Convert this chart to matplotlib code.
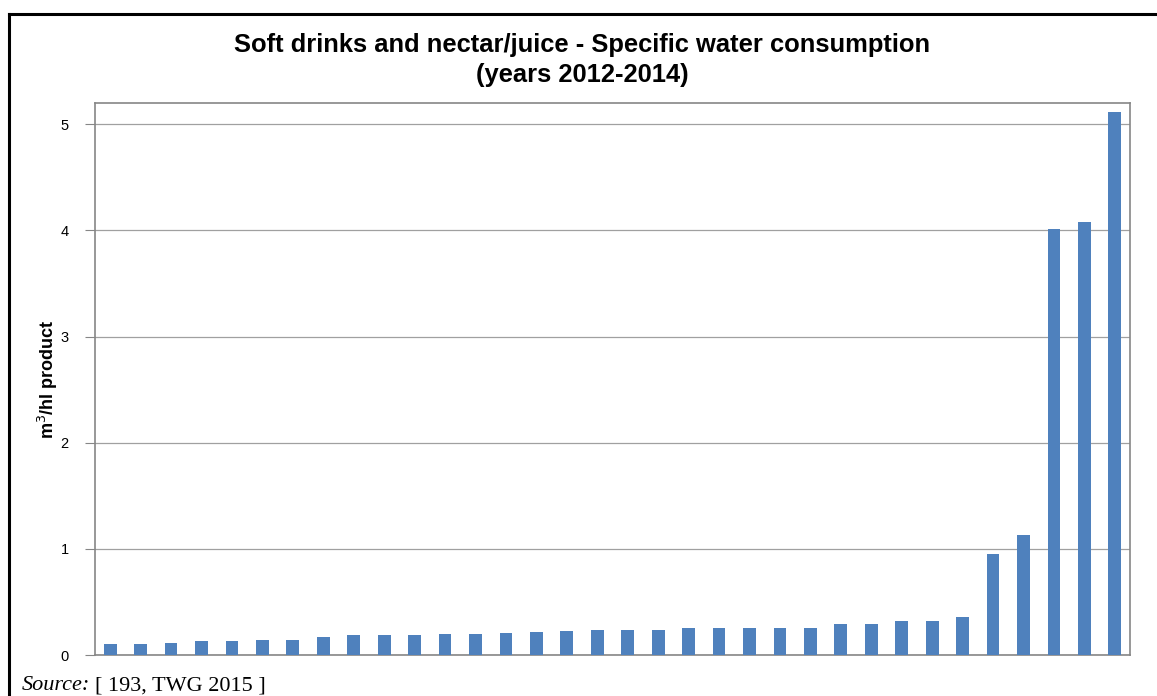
import matplotlib.pyplot as plt
from matplotlib.lines import Line2D

plt.rcParams['font.family'] = ['Liberation Sans', 'DejaVu Sans']

# specific water consumption per plant, m3/hl product (sorted)
values = [0.10, 0.10, 0.11, 0.13, 0.13, 0.14, 0.14, 0.165, 0.185, 0.19,
          0.19, 0.20, 0.20, 0.21, 0.22, 0.23, 0.24, 0.24, 0.24, 0.25,
          0.25, 0.25, 0.25, 0.25, 0.29, 0.29, 0.32, 0.32, 0.36, 0.95,
          1.13, 4.01, 4.08, 5.12]
y_ticks = [0, 1, 2, 3, 4, 5]

fig = plt.figure(figsize=(11.57, 6.96), dpi=100)
ax = fig.add_axes([0.0821, 0.0589, 0.8946, 0.7931])

x = list(range(len(values)))
ax.bar(x, values, width=0.42, color='#4F81BD', zorder=3)

ax.set_xlim(-0.5, len(values) - 0.5)
ax.set_ylim(0, 5.2)
ax.set_yticks(y_ticks)
ax.set_yticklabels([str(t) for t in y_ticks], fontsize=10.5)
ax.set_xticks([])
ax.tick_params(axis='y', length=7, width=0.8, color='#868686', pad=12)
ax.grid(axis='y', color='#a0a0a0', linewidth=0.9, zorder=0)
for sp in ax.spines.values():
    sp.set_color('#868686')
    sp.set_linewidth(1.2)

ax.set_ylabel('m$^3$/hl product', fontsize=13, fontweight='bold')
ax.yaxis.set_label_coords(-0.034, 0.5)

fig.text(0.503, 0.935, 'Soft drinks and nectar/juice - Specific water consumption',
         ha='center', va='center', fontsize=18.4, fontweight='bold')
fig.text(0.503, 0.892, '(years 2012-2014)',
         ha='center', va='center', fontsize=18.4, fontweight='bold')

# outer frame (left and top)
fig.add_artist(Line2D([0.0078, 0.0078], [0.0, 0.98], transform=fig.transFigure,
                      color='black', linewidth=2.2))
fig.add_artist(Line2D([0.0078, 1.0], [0.98, 0.98], transform=fig.transFigure,
                      color='black', linewidth=2.2))

fig.text(0.019, 0.001, 'Source:', ha='left', va='bottom',
         fontsize=16, family='Liberation Serif', style='italic')
fig.text(0.0825, 0.001, '[ 193, TWG 2015 ]', ha='left', va='bottom',
         fontsize=16, family='Liberation Serif')

fig.savefig('out.png', dpi=100)
